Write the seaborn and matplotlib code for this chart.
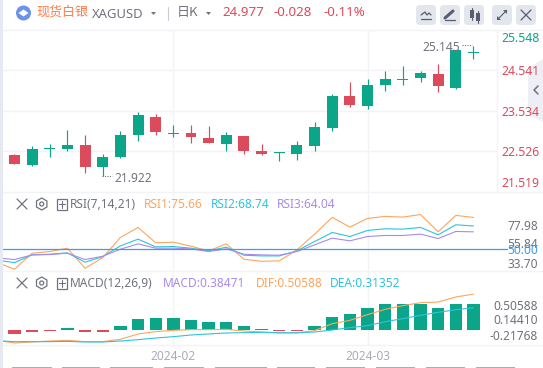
import matplotlib
matplotlib.use('Agg')
import matplotlib.pyplot as plt
from matplotlib.patches import Circle, FancyBboxPatch, Polygon, Rectangle, RegularPolygon
import numpy as np
import pandas as pd
import seaborn as sns

# Candles, day 0 to day 26
opens = [22.426, 22.179, 22.574, 22.574, 22.673, 22.129, 22.376, 22.944, 23.389, 22.969,
         22.994, 22.870, 22.722, 22.920, 22.525, 22.475, 22.450, 22.648, 23.117, 23.907,
         23.660, 24.179, 24.302, 24.352, 24.450, 24.105, 24.977]
closes = [22.204, 22.574, 22.623, 22.697, 22.129, 22.376, 22.944, 23.438, 23.000, 22.994,
          22.895, 22.747, 22.944, 22.525, 22.450, 22.500, 22.673, 23.142, 23.907, 23.685,
          24.179, 24.327, 24.327, 24.475, 24.154, 25.043, 24.994]
highs = [22.450, 22.648, 22.722, 23.068, 22.944, 22.450, 23.043, 23.512, 23.463, 23.191,
         23.191, 23.167, 23.018, 22.920, 22.722, 22.500, 22.796, 23.265, 23.957, 24.253,
         24.327, 24.525, 24.648, 24.525, 24.697, 25.043, 25.145]
lows = [22.204, 22.154, 22.376, 22.525, 21.981, 21.922, 22.352, 22.796, 22.944, 22.895,
        22.747, 22.747, 22.525, 22.450, 22.426, 22.278, 22.302, 22.525, 23.043, 23.636,
        23.586, 24.031, 24.179, 24.253, 24.006, 24.080, 24.821]

# RSI lines, first value is the day before the chart starts
rsi1 = [39.46, 33.78, 46.76, 48.11, 50.81, 34.59, 43.24, 59.46, 67.57, 55.14, 55.68, 52.43, 48.65, 54.32,
        41.89, 40.27, 40.54, 49.46, 62.16, 75.68, 67.84, 74.86, 76.49, 75.95, 77.98, 64.05, 77.30, 75.66]
rsi2 = [41.08, 39.19, 45.41, 45.95, 47.03, 39.46, 44.05, 52.70, 58.11, 51.89, 52.16, 50.81, 48.65, 51.62,
        45.14, 44.59, 44.59, 48.65, 56.22, 63.51, 60.27, 65.14, 66.49, 66.22, 67.57, 61.62, 69.73, 68.74]
rsi3 = [42.97, 41.62, 45.41, 45.68, 46.76, 41.62, 44.32, 50.00, 54.32, 50.81, 50.81, 50.27, 48.11, 50.27,
        45.95, 45.41, 45.14, 48.11, 53.51, 58.92, 56.76, 60.27, 61.08, 61.08, 62.16, 58.65, 64.32, 64.04]

# MACD
macd_bars = [-0.052, -0.023, -0.009, 0.028, -0.023, -0.023, 0.056, 0.155, 0.169, 0.169, 0.141, 0.113, 0.113,
             0.056, 0.014, -0.009, -0.009, 0.056, 0.183, 0.225, 0.310, 0.366, 0.366, 0.366, 0.310, 0.366, 0.366]
dif = [-0.146, -0.183, -0.169, -0.155, -0.146, -0.164, -0.164, -0.131, -0.056, -0.023, -0.005, 0.005, 0.005, 0.009,
       -0.014, -0.028, -0.042, -0.042, -0.009, 0.089, 0.136, 0.216, 0.291, 0.343, 0.385, 0.394, 0.465, 0.50588]
dea = [-0.150, -0.164, -0.164, -0.164, -0.160, -0.169, -0.169, -0.155, -0.136, -0.113, -0.094, -0.070, -0.056, -0.042,
       -0.038, -0.033, -0.038, -0.038, -0.028, 0.000, 0.033, 0.061, 0.117, 0.160, 0.207, 0.249, 0.286, 0.31352]

price_ticks = [25.548, 24.541, 23.534, 22.526, 21.519]
date_ticks = [9, 20]
date_labels = ['2024-02', '2024-03']

GREEN = '#0ba689'
RED = '#dc4b5b'
ORANGE = '#ffa45c'
CYAN = '#2cc4dc'
PURPLE = '#a98bea'
GRID = '#f2f3f7'
GREY = '#70737f'

sns.set_theme(style='white')
plt.rcParams['font.family'] = ['Noto Sans', 'Noto Sans CJK SC', 'DejaVu Sans']

W, H = 543, 368
fig = plt.figure(figsize=(W / 100, H / 100), dpi=100, facecolor='white')


def panel(top, bottom):
    ax = fig.add_axes([3 / W, 1 - bottom / H, 494.3 / W, (bottom - top) / H])
    ax.set_xlim(-0.65, 27.35)
    ax.set_xticks([])
    ax.set_yticks([])
    ax.patch.set_alpha(0)
    for s in ax.spines.values():
        s.set_visible(False)
    for d in date_ticks:
        ax.axvline(d, color=GRID, lw=1, zorder=0)
    return ax


ax_k = panel(29.6, 192)
ax_rsi = panel(192, 271)
ax_macd = panel(271, 345)

# Candles
df = pd.DataFrame({'day': range(27), 'o': opens, 'c': closes, 'h': highs, 'l': lows})
df['low_body'] = df[['o', 'c']].min(axis=1)
df['body'] = (df['c'] - df['o']).abs()
df['colour'] = np.where(df['c'] >= df['o'], GREEN, RED)
for p in price_ticks[1:4]:
    ax_k.axhline(p, color=GRID, lw=1, zorder=0)
for colour, part in df.groupby('colour'):
    ax_k.vlines(part['day'], part['l'], part['h'], color=colour, lw=0.85, zorder=2)
    sns.barplot(data=part, x='day', y='body', bottom=part['low_body'].values, native_scale=True,
                color=colour, saturation=1, width=0.62, errorbar=None, ax=ax_k, zorder=3, linewidth=0)
ax_k.set_xlim(-0.65, 27.35)
ax_k.set_ylim(21.519, 25.548)
ax_k.set_xlabel('')
ax_k.set_ylabel('')
ax_k.set_xticks([])
ax_k.set_yticks([])

# RSI
days = list(range(-1, 27))
for values, colour in [(rsi1, ORANGE), (rsi2, CYAN), (rsi3, PURPLE)]:
    sns.lineplot(x=days, y=values, color=colour, lw=0.8, ax=ax_rsi, zorder=3)
ax_rsi.axhline(50, xmin=0, xmax=1.02, color='#3b9df2', lw=0.9, clip_on=False, zorder=4)
ax_rsi.set_xlim(-0.65, 27.35)
ax_rsi.set_ylim(32.4, 96.2)

# MACD
bar_colours = [GREEN if v >= 0 else RED for v in macd_bars]
sns.barplot(x=list(range(27)), y=macd_bars, hue=bar_colours, palette={GREEN: GREEN, RED: RED}, native_scale=True,
            saturation=1, width=0.7, errorbar=None, legend=False, ax=ax_macd, zorder=2, linewidth=0)
sns.lineplot(x=days, y=dif, color=ORANGE, lw=0.8, ax=ax_macd, zorder=3)
sns.lineplot(x=days, y=dea, color=CYAN, lw=0.8, ax=ax_macd, zorder=4)
ax_macd.set_xlim(-0.65, 27.35)
ax_macd.set_ylim(-0.2113, 0.831)
ax_macd.set_xticks(date_ticks)
ax_macd.set_xticklabels(date_labels, fontsize=8.6, color='#a9abb8')
ax_macd.tick_params(axis='x', length=0, pad=3.5)
ax_macd.set_xlabel('')
ax_macd.set_yticks([])

# everything else is drawn in pixel coordinates
ov = fig.add_axes([0, 0, 1, 1], zorder=10)
ov.set_xlim(0, W)
ov.set_ylim(H, 0)
ov.axis('off')


def txt(x, y, s, colour=GREY, size=8.6, ha='left', weight='normal', family=None):
    ov.text(x, y, s, color=colour, fontsize=size, ha=ha, va='center', fontweight=weight,
            family=family if family else ['Noto Sans', 'Noto Sans CJK SC', 'DejaVu Sans'])


def panel_icons(y):
    ov.plot([17, 27], [y - 5, y + 5], color=GREY, lw=0.9)
    ov.plot([17, 27], [y + 5, y - 5], color=GREY, lw=0.9)
    ov.add_patch(RegularPolygon((41.7, y), 6, radius=6, fill=False, edgecolor=GREY, lw=0.9))
    ov.add_patch(Circle((41.7, y), 2, fill=False, edgecolor=GREY, lw=0.9))
    ov.add_patch(Rectangle((56.5, y - 5), 10.5, 10.5, fill=False, edgecolor=GREY, lw=0.9))
    ov.plot([58.5, 65], [y + 0.2, y + 0.2], color=GREY, lw=0.8)
    ov.plot([61.8, 61.8], [y - 3, y + 3.5], color=GREY, lw=0.8)


# frame lines
ov.add_patch(Rectangle((0, 0), 2.5, H, color='#e6e9f2', lw=0))
for y in [29.6, 192.3, 271, 345.3]:
    ov.plot([3, W], [y, y], color=GRID, lw=1)
ov.plot([497.3, 497.3], [29.6, 192], color=GRID, lw=1)

# header
ov.add_patch(Circle((23.5, 13), 7.5, color='#6a93e8', lw=0))
ov.add_patch(Polygon([[18.5, 13], [23.5, 9.5], [28.5, 13], [23.5, 16.5]], color='white', lw=0))
txt(36, 12, '现货白银', '#ff7f4d', 9.4, family=['Noto Sans CJK SC', 'DejaVu Sans'])
txt(91.5, 14, 'XAGUSD', GREY, 9.4)
ov.add_patch(Polygon([[151, 12], [156, 12], [153.5, 15]], color=GREY, lw=0))
ov.plot([167.5, 167.5], [7, 20], color='#c8cad4', lw=0.8)
txt(177, 12.5, '日K', GREY, 9.4, family=['Noto Sans CJK SC', 'DejaVu Sans'])
ov.add_patch(Polygon([[206, 12], [211, 12], [208.5, 15]], color=GREY, lw=0))
txt(222, 13, '24.977', RED, 9.6, weight='bold')
txt(274, 13, '-0.028', RED, 9.6, weight='bold')
txt(323, 13, '-0.11%', RED, 9.6, weight='bold')

# buttons
for x0 in [416, 440, 464, 492, 516]:
    ov.add_patch(FancyBboxPatch((x0 + 2, 7), 16, 16, boxstyle='round,pad=2,rounding_size=4',
                                facecolor='#e4e6ee', edgecolor='none'))
ink = '#5a5d6b'
ov.plot([421, 425, 427, 429, 431], [15, 12, 15, 13, 15], color=ink, lw=0.9)
ov.plot([421, 431], [19, 19], color=ink, lw=0.9)
ov.plot([445, 453], [18, 11], color=ink, lw=2.2)
ov.plot([445, 455], [20, 20], color=ink, lw=0.9)
for x0, y0, h0 in [(470, 10, 8), (476, 13, 8)]:
    ov.add_patch(Rectangle((x0, y0), 4, h0, color=ink, lw=0))
    ov.plot([x0 + 2, x0 + 2], [y0 - 2, y0 + h0 + 2], color=ink, lw=0.8)
ov.plot([498, 506], [19, 11], color=ink, lw=0.8)
ov.add_patch(Polygon([[503, 10], [507, 10], [507, 14]], color=ink, lw=0))
ov.add_patch(Polygon([[497, 16], [497, 20], [501, 20]], color=ink, lw=0))
ov.plot([521, 531], [10, 20], color=ink, lw=0.9)
ov.plot([521, 531], [20, 10], color=ink, lw=0.9)

# right tab
ov.add_patch(Polygon([[543, 59], [528, 68], [528, 114], [543, 122]], color='#eeeff4', lw=0))
ov.plot([538, 534, 538], [86, 90, 94], color=GREY, lw=1.1)

# price labels, squeezed inside the panel
for s, y, c in zip(price_ticks, [38, 71.5, 112.5, 153, 183.5], [GREEN, RED, RED, RED, RED]):
    txt(501, y, f'{s:.3f}', c, 8.8)

# high and low marks
txt(114, 178.5, '21.922', GREY, 8.6)
ov.plot([102, 112], [175.5, 175.5], color=GREY, lw=0.8, ls=(0, (1, 1.2)))
txt(422.5, 47.5, '25.145', GREY, 8.6)
ov.plot([462, 472], [44.5, 44.5], color=GREY, lw=0.8, ls=(0, (1, 1.2)))

# RSI header and labels
panel_icons(204)
txt(70, 204.5, 'RSI(7,14,21)', GREY, 8.6)
txt(144, 204.5, 'RSI1:75.66', ORANGE, 8.6)
txt(211, 204.5, 'RSI2:68.74', CYAN, 8.6)
txt(277, 204.5, 'RSI3:64.04', PURPLE, 8.6)
txt(538, 226.8, '77.98', GREY, 8.6, ha='right')
txt(538, 245, '55.84', GREY, 8.6, ha='right')
txt(538, 250.5, '50.00', '#3b9df2', 8.6, ha='right')
txt(538, 264, '33.70', GREY, 8.6, ha='right')

# MACD header and labels
panel_icons(283)
txt(70, 283.5, 'MACD(12,26,9)', GREY, 8.6)
txt(163, 283.5, 'MACD:0.38471', PURPLE, 8.6)
txt(255.5, 283.5, 'DIF:0.50588', ORANGE, 8.6)
txt(330, 283.5, 'DEA:0.31352', CYAN, 8.6)
txt(538, 306, '0.50588', GREY, 8.6, ha='right')
txt(538, 321, '0.14410', GREY, 8.6, ha='right')
txt(538, 337, '-0.21768', GREY, 8.6, ha='right')

# tan tabs along the bottom edge
for x0, x1 in [(12, 52), (62, 100), (110, 153), (164, 204), (215, 267),
               (277, 315), (326, 365), (376, 415), (426, 465), (476, 515)]:
    ov.add_patch(Rectangle((x0, 366.6), x1 - x0, 1.6, color='#d1a866', lw=0))

fig.savefig('out.png', dpi=100)
